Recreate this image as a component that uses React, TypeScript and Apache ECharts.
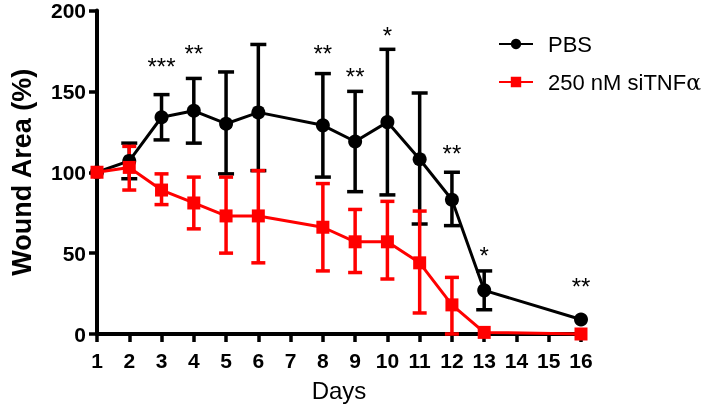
import React, { useEffect, useRef } from "react";
import * as echarts from "echarts";

const days = [1, 2, 3, 4, 5, 6, 8, 9, 10, 11, 12, 13, 16];
const pbsMean = [100, 107, 134, 138, 130, 137, 129, 119, 131, 108, 83, 27, 9];
const pbsHigh = [100, 118, 148, 158, 162, 179, 161, 150, 176, 149, 100, 39, 9];
const pbsLow = [100, 96, 120, 118, 99, 101, 97, 88, 86, 68, 67, 15, 9];
const siMean = [100, 103, 89, 81, 73, 73, 66, 57, 57, 44, 18, 1, 0];
const siHigh = [100, 116, 99, 97, 97, 101, 93, 77, 82, 76, 35, 1, 0];
const siLow = [100, 89, 80, 65, 50, 44, 39, 38, 34, 13, 0, 1, 0];
const starDays = [3, 4, 8, 9, 10, 12, 13, 16];
const starY = [169, 177, 177, 163, 188, 115, 52, 33];
const starLabels = ["***", "**", "**", "**", "*", "**", "*", "**"];
const xTicks = [1, 16];
const yTicks = [0, 200, 50];

const FONT = "'Liberation Sans', Arial, sans-serif";

function errSeries(name: string, color: string, hi: number[], lo: number[], capHalf: number) {
  return {
    type: "custom",
    name,
    z: 3,
    data: days.map((d, i) => [d, hi[i], lo[i]]),
    renderItem: (params: any, api: any) => {
      const x = api.value(0);
      const h = api.value(1);
      const l = api.value(2);
      if (h === l) return null;
      const pH = api.coord([x, h]);
      const pL = api.coord([x, l]);
      const style = { stroke: color, lineWidth: 3.5 };
      return {
        type: "group",
        children: [
          { type: "line", shape: { x1: pH[0], y1: pH[1], x2: pL[0], y2: pL[1] }, style },
          { type: "line", shape: { x1: pH[0] - capHalf, y1: pH[1], x2: pH[0] + capHalf, y2: pH[1] }, style },
          { type: "line", shape: { x1: pL[0] - capHalf, y1: pL[1], x2: pL[0] + capHalf, y2: pL[1] }, style },
        ],
      };
    },
  };
}

export default function App() {
  const ref = useRef<HTMLDivElement>(null);
  useEffect(() => {
    if (!ref.current) return;
    const chart = echarts.init(ref.current, null, { renderer: "svg" });
    chart.setOption({
      animation: false,
      textStyle: { fontFamily: FONT },
      grid: { left: 89, right: 128, top: 10, bottom: 74, containLabel: false },
      legend: {
        data: ["PBS", "250 nM siTNFα"],
        orient: "vertical",
        left: 493,
        top: 28,
        itemWidth: 34,
        itemHeight: 13,
        itemGap: 16,
        textStyle: {
          fontSize: 22,
          fontFamily: FONT,
          color: "#000",
          padding: [0, 0, 0, 10],
          rich: { a: { fontSize: 22, fontFamily: "'DejaVu Serif', serif", color: "#000" } },
        },
        formatter: (n: string) => n.replace("α", "{a|α}"),
      },
      xAxis: {
        type: "value",
        min: xTicks[0],
        max: xTicks[1],
        interval: 1,
        name: "Days",
        nameLocation: "middle",
        nameGap: 44,
        nameTextStyle: { fontSize: 24, color: "#000", fontFamily: FONT },
        axisLine: { lineStyle: { color: "#000", width: 4 } },
        axisTick: { length: 8, lineStyle: { color: "#000", width: 3.5 } },
        axisLabel: { fontSize: 21, fontWeight: "bold", color: "#000", margin: 16, fontFamily: FONT },
        splitLine: { show: false },
      },
      yAxis: {
        type: "value",
        min: yTicks[0],
        max: yTicks[1],
        interval: yTicks[2],
        name: "Wound Area (%)",
        nameLocation: "middle",
        nameGap: 62,
        nameTextStyle: { fontSize: 27, fontWeight: "bold", color: "#000", fontFamily: FONT },
        axisLine: { show: true, lineStyle: { color: "#000", width: 4 } },
        axisTick: { show: true, length: 8, lineStyle: { color: "#000", width: 3.5 } },
        axisLabel: { fontSize: 21, fontWeight: "bold", color: "#000", margin: 11, fontFamily: FONT },
        splitLine: { show: false },
      },
      series: [
        errSeries("pbsErr", "#000", pbsHigh, pbsLow, 8),
        errSeries("siErr", "#ff0000", siHigh, siLow, 7),
        {
          type: "line",
          name: "PBS",
          data: days.map((d, i) => [d, pbsMean[i]]),
          color: "#000",
          lineStyle: { color: "#000", width: 3 },
          itemStyle: { color: "#000" },
          symbol: "circle",
          symbolSize: 14,
          clip: false,
          z: 4,
        },
        {
          type: "line",
          name: "250 nM siTNFα",
          data: days.map((d, i) => [d, siMean[i]]),
          color: "#ff0000",
          lineStyle: { color: "#ff0000", width: 3 },
          itemStyle: { color: "#ff0000" },
          symbol: "rect",
          symbolSize: 13,
          clip: false,
          z: 5,
        },
        {
          type: "custom",
          name: "stars",
          z: 6,
          data: starDays.map((d, i) => [d, starY[i]]),
          renderItem: (params: any, api: any) => {
            const p = api.coord([api.value(0), api.value(1)]);
            return {
              type: "text",
              x: p[0],
              y: p[1] + 6,
              style: {
                text: starLabels[params.dataIndex],
                fontSize: 24,
                fontFamily: FONT,
                fill: "#000",
                align: "center",
                verticalAlign: "middle",
              },
            };
          },
        },
      ],
    });
    return () => chart.dispose();
  }, []);
  return <div ref={ref} style={{ position: "fixed", left: 0, top: 0, width: 709, height: 408 }} />;
}
